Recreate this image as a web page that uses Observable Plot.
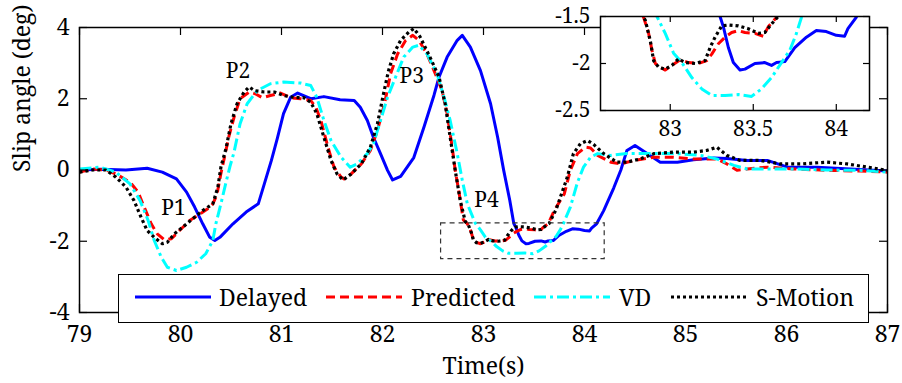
<!DOCTYPE html>
<html><head><meta charset="utf-8">
<script src="https://cdn.jsdelivr.net/npm/d3@7"></script>
<script src="https://cdn.jsdelivr.net/npm/@observablehq/plot@0.6"></script>
<style>
body{margin:0;background:#fff;}
#wrap{position:relative;width:902px;height:383px;overflow:hidden;font-family:"Noto Serif","Liberation Serif",serif;}
#wrap > svg{position:absolute;left:0;top:0;}
#legend{position:absolute;left:118px;top:274px;width:751px;height:49px;box-sizing:border-box;border:1.5px solid #000;background:#fff;}
#legend .ln{position:absolute;top:17px;}
#legend .tx{position:absolute;top:5px;font-size:23px;line-height:34px;color:#000;white-space:nowrap;}
</style></head>
<body><div id="wrap"></div>
<script>
// ---------- data ----------
const xTicks = [79, 80, 81, 82, 83, 84, 85, 86, 87];
const yTicks = [-4, -2, 0, 2, 4];
const insetXTicks = [83, 83.5, 84];
const insetYTicks = [-2.5, -2, -1.5];
const insetX = [82.58, 84.2];
const insetY = [-2.5, -1.5];

const seriesNames = ["Delayed", "Predicted", "VD", "S-Motion"];

const delayedT = [79.0,79.21,79.46,79.67,79.82,79.96,80.06,80.14,80.22,80.29,80.34,80.39,80.52,80.65,80.77,80.83,80.90,80.96,81.02,81.09,81.16,81.29,81.42,81.58,81.72,81.78,81.85,81.91,81.98,82.05,82.10,82.18,82.31,82.41,82.51,82.56,82.64,82.74,82.79,82.87,82.97,83.07,83.14,83.20,83.26,83.30,83.32,83.35,83.38,83.42,83.45,83.51,83.57,83.61,83.64,83.69,83.75,83.82,83.88,83.94,84.00,84.05,84.07,84.12,84.19,84.29,84.36,84.42,84.50,84.62,84.75,84.92,85.08,85.28,85.41,85.61,85.81,86.01,86.30,86.63,87.0];
const delayedV = [0.0,0.02,0.0,0.05,-0.06,-0.25,-0.62,-1.04,-1.51,-1.89,-1.98,-1.89,-1.51,-1.18,-0.95,-0.39,0.27,0.9,1.58,2.04,2.16,2.0,2.06,1.97,1.95,1.76,1.39,0.92,0.46,-0.01,-0.28,-0.18,0.35,1.2,2.1,2.61,3.17,3.64,3.78,3.45,2.79,1.86,0.92,-0.01,-0.85,-1.5,-1.61,-1.83,-1.99,-2.07,-2.06,-2.0,-1.99,-2.02,-1.99,-1.98,-1.83,-1.72,-1.65,-1.66,-1.70,-1.71,-1.63,-1.51,-1.14,-0.5,0.0,0.55,0.69,0.46,0.22,0.22,0.29,0.34,0.32,0.27,0.27,0.08,0.08,0.03,-0.03];

const predictedT = [79.0,79.13,79.26,79.36,79.50,79.58,79.64,79.71,79.77,79.84,79.91,79.99,80.09,80.17,80.27,80.32,80.36,80.40,80.45,80.48,80.53,80.59,80.68,80.74,80.81,80.89,80.99,81.09,81.19,81.29,81.34,81.39,81.46,81.52,81.59,81.62,81.69,81.79,81.88,81.95,82.02,82.08,82.15,82.23,82.30,82.36,82.44,82.51,82.59,82.64,82.69,82.72,82.76,82.80,82.84,82.87,82.89,82.91,82.94,82.97,83.01,83.06,83.11,83.17,83.22,83.25,83.29,83.33,83.37,83.41,83.45,83.51,83.56,83.59,83.64,83.70,83.80,83.86,83.93,84.01,84.06,84.13,84.26,84.36,84.49,84.69,84.88,85.08,85.31,85.41,85.51,85.61,85.81,86.07,86.40,86.73,87.0];
const predictedV = [-0.06,0.03,0.0,-0.11,-0.34,-0.62,-1.04,-1.51,-1.79,-1.96,-1.93,-1.7,-1.42,-1.28,-1.09,-0.95,-0.7,-0.1,0.55,0.95,1.48,2.0,2.19,2.14,2.03,2.09,2.16,2.03,2.0,1.95,1.76,1.39,0.64,0.08,-0.2,-0.25,-0.11,0.17,0.55,1.11,1.86,2.7,3.26,3.64,3.78,3.64,3.26,2.79,2.23,1.58,0.64,-0.01,-0.67,-1.40,-1.51,-1.68,-1.86,-2.0,-2.04,-2.07,-2.02,-1.96,-1.99,-2.0,-1.97,-1.90,-1.79,-1.72,-1.67,-1.65,-1.67,-1.68,-1.71,-1.61,-1.51,-1.14,-0.67,-0.01,0.46,0.64,0.62,0.41,0.22,0.17,0.27,0.36,0.36,0.31,0.31,0.17,-0.01,0.03,0.08,0.03,-0.01,-0.03,-0.06];

const vdT = [79.0,79.2,79.36,79.50,79.60,79.68,79.74,79.81,79.87,79.96,80.06,80.16,80.25,80.32,80.35,80.40,80.45,80.49,80.53,80.59,80.66,80.76,80.89,81.02,81.19,81.29,81.35,81.42,81.49,81.59,81.68,81.75,81.85,81.91,81.98,82.05,82.13,82.21,82.30,82.36,82.44,82.54,82.61,82.67,82.74,82.79,82.84,82.92,82.97,83.02,83.07,83.13,83.19,83.25,83.33,83.41,83.49,83.55,83.61,83.67,83.72,83.76,83.79,83.86,83.93,83.99,84.06,84.13,84.26,84.42,84.59,84.75,84.92,85.15,85.31,85.48,85.61,85.74,86.07,86.40,86.73,87.0];
const vdV = [0.03,0.08,-0.06,-0.39,-0.86,-1.42,-1.98,-2.45,-2.73,-2.82,-2.73,-2.59,-2.35,-1.98,-1.51,-0.95,-0.35,0.1,0.5,1.3,1.86,2.23,2.42,2.47,2.44,2.37,2.04,1.39,0.83,0.36,0.08,0.17,0.46,0.74,1.39,2.04,2.61,3.17,3.45,3.5,3.26,2.7,2.04,1.39,0.46,-0.29,-0.95,-1.5,-1.68,-1.89,-1.99,-2.15,-2.27,-2.34,-2.34,-2.33,-2.35,-2.27,-2.15,-1.99,-1.86,-1.68,-1.51,-1.04,-0.35,0.08,0.36,0.46,0.41,0.46,0.46,0.46,0.46,0.41,0.31,0.13,0.03,0.03,0.03,0.0,-0.01,-0.06];

const smotionT = [79.0,79.13,79.26,79.36,79.46,79.54,79.61,79.67,79.74,79.82,79.87,79.94,80.02,80.12,80.22,80.32,80.37,80.40,80.45,80.50,80.56,80.63,80.68,80.73,80.83,80.93,81.02,81.12,81.22,81.29,81.35,81.42,81.49,81.55,81.61,81.69,81.79,81.88,81.95,82.01,82.06,82.11,82.18,82.26,82.31,82.37,82.47,82.56,82.62,82.67,82.72,82.77,82.82,82.85,82.88,82.90,82.93,82.97,83.01,83.05,83.09,83.15,83.21,83.24,83.27,83.31,83.35,83.41,83.47,83.53,83.57,83.61,83.65,83.72,83.83,83.89,83.96,84.03,84.09,84.19,84.32,84.42,84.55,84.69,84.88,85.08,85.21,85.31,85.41,85.54,85.74,85.94,86.14,86.40,86.60,86.80,87.0];
const smotionV = [-0.06,0.0,0.0,-0.2,-0.48,-0.86,-1.33,-1.7,-1.89,-2.07,-2.03,-1.79,-1.61,-1.37,-1.14,-0.95,-0.48,0.08,0.6,1.3,1.86,2.19,2.33,2.23,2.19,2.19,2.09,2.04,2.03,1.9,1.58,0.92,0.27,-0.11,-0.28,-0.11,0.17,0.64,1.3,2.14,2.79,3.26,3.64,3.87,3.97,3.75,3.17,2.61,1.86,0.92,-0.01,-0.86,-1.45,-1.54,-1.76,-1.97,-2.04,-2.06,-2.02,-1.95,-1.99,-2.0,-1.97,-1.83,-1.72,-1.60,-1.59,-1.60,-1.63,-1.68,-1.67,-1.58,-1.5,-1.1,-0.2,0.46,0.74,0.83,0.72,0.46,0.22,0.22,0.31,0.46,0.5,0.5,0.55,0.64,0.41,0.27,0.27,0.17,0.17,0.22,0.17,0.08,-0.01];

const annoText = ["P1", "P2", "P3", "P4"];
const annoT = [79.93, 80.57, 82.29, 83.03];
const annoV = [-1.08, 2.77, 2.63, -0.86];

// ---------- styling ----------
const FONT = '"Noto Serif","Liberation Serif",serif';
const styles = {
  "Delayed":   {stroke: "#0000ff", dash: null,        width: 3},
  "Predicted": {stroke: "#ff0000", dash: "9,5",       width: 3},
  "VD":        {stroke: "#00ffff", dash: "12,4,3,4",  width: 3},
  "S-Motion":  {stroke: "#000000", dash: "3,3",       width: 3.2}
};
const seriesT = [delayedT, predictedT, vdT, smotionT];
const seriesV = [delayedV, predictedV, vdV, smotionV];
const seriesData = seriesNames.map((name, i) => seriesT[i].map((t, j) => ({t, v: seriesV[i][j], name})));
const annotations = annoText.map((text, i) => ({text, t: annoT[i], v: annoV[i]}));

function lineMarks(clip) {
  return seriesData.map((data, i) => {
    const s = styles[seriesNames[i]];
    return Plot.line(data, {x: "t", y: "v", stroke: s.stroke, strokeWidth: s.width,
      strokeDasharray: s.dash || undefined, strokeLinejoin: "round", strokeLinecap: "butt", clip});
  });
}

const wrap = document.getElementById("wrap");
const W = 902, H = 383, mL = 79, mR = 15, mT = 27, mB = 71;
const pw = W - mL - mR, ph = H - mT - mB;
const tk = 8;

const main = Plot.plot({
  width: W, height: H, marginLeft: mL, marginRight: mR, marginTop: mT, marginBottom: mB,
  style: {fontFamily: FONT, fontSize: "23px", background: "transparent", color: "#000", overflow: "visible"},
  x: {domain: [xTicks[0], xTicks[xTicks.length - 1]]},
  y: {domain: [yTicks[0], yTicks[yTicks.length - 1]]},
  marks: [
    ...lineMarks(false),
    Plot.rect([{x1: insetX[0], x2: insetX[1], y1: insetY[0], y2: insetY[1]}],
      {x1: "x1", x2: "x2", y1: "y1", y2: "y2", fill: "none", stroke: "#333", strokeWidth: 1.2, strokeDasharray: "5,4"}),
    Plot.text(annotations, {x: "t", y: "v", text: "text", fontSize: 21, fill: "#000"}),
    Plot.tickX(xTicks, {x: d => d, insetTop: ph - tk, stroke: "#000", strokeWidth: 1.2}),
    Plot.tickX(xTicks, {x: d => d, insetBottom: ph - tk, stroke: "#000", strokeWidth: 1.2}),
    Plot.tickY(yTicks, {y: d => d, insetRight: pw - tk, stroke: "#000", strokeWidth: 1.2}),
    Plot.tickY(yTicks, {y: d => d, insetLeft: pw - tk, stroke: "#000", strokeWidth: 1.2}),
    Plot.frame({stroke: "#000", strokeWidth: 1.5}),
    Plot.axisX(xTicks, {tickSize: 0, tickPadding: 13, label: null, tickFormat: d => String(d), fontSize: 23}),
    Plot.axisY(yTicks, {tickSize: 0, tickPadding: 10, label: null, tickFormat: d => String(d), fontSize: 23}),
    Plot.text(["Time(s)"], {frameAnchor: "bottom", dy: 61, fontSize: 23, fill: "#000"}),
    Plot.text(["Slip angle (deg)"], {frameAnchor: "left", dx: -57, dy: 2, rotate: -90, fontSize: 23, fill: "#000"})
  ]
});
wrap.appendChild(main);

// ---------- inset ----------
const iL = 600, iT = 16, iW = 269, iH = 94;
const imL = 62, imR = 6, imT = 14, imB = 34;
const inset = Plot.plot({
  width: imL + iW + imR, height: imT + iH + imB,
  marginLeft: imL, marginRight: imR, marginTop: imT, marginBottom: imB,
  style: {fontFamily: FONT, fontSize: "21px", background: "transparent", color: "#000"},
  x: {domain: insetX},
  y: {domain: insetY},
  marks: [
    Plot.frame({fill: "#fff", stroke: "none"}),
    ...lineMarks(true),
    Plot.tickX(insetXTicks, {x: d => d, insetTop: iH - 6, stroke: "#000", strokeWidth: 1.2}),
    Plot.tickX(insetXTicks, {x: d => d, insetBottom: iH - 6, stroke: "#000", strokeWidth: 1.2}),
    Plot.tickY(insetYTicks, {y: d => d, insetRight: iW - 6, stroke: "#000", strokeWidth: 1.2}),
    Plot.tickY(insetYTicks, {y: d => d, insetLeft: iW - 6, stroke: "#000", strokeWidth: 1.2}),
    Plot.frame({stroke: "#000", strokeWidth: 1.5}),
    Plot.axisX(insetXTicks, {tickSize: 0, tickPadding: 11, label: null, tickFormat: d => String(d), fontSize: 21}),
    Plot.axisY(insetYTicks, {tickSize: 0, tickPadding: 10, label: null, tickFormat: d => String(d), fontSize: 21})
  ]
});
inset.style.left = (iL - imL) + "px";
inset.style.top = (iT - imT) + "px";
wrap.appendChild(inset);

// ---------- legend ----------
const legendLineX = [134, 325, 533, 670];
const legendTextX = [218, 410, 618, 755];
const legend = document.createElement("div");
legend.id = "legend";
const ns = "http://www.w3.org/2000/svg";
seriesNames.forEach((name, i) => {
  const s = styles[name];
  const svg = document.createElementNS(ns, "svg");
  svg.setAttribute("width", 76); svg.setAttribute("height", 10);
  svg.setAttribute("class", "ln");
  svg.style.left = (legendLineX[i] - 118) + "px";
  const l = document.createElementNS(ns, "line");
  l.setAttribute("x1", 0); l.setAttribute("x2", 76); l.setAttribute("y1", 5); l.setAttribute("y2", 5);
  l.setAttribute("stroke", s.stroke); l.setAttribute("stroke-width", s.width);
  if (s.dash) l.setAttribute("stroke-dasharray", s.dash);
  svg.appendChild(l);
  legend.appendChild(svg);
  const t = document.createElement("span");
  t.className = "tx"; t.textContent = name;
  t.style.left = (legendTextX[i] - 118) + "px";
  legend.appendChild(t);
});
wrap.appendChild(legend);
</script>
</body></html>
